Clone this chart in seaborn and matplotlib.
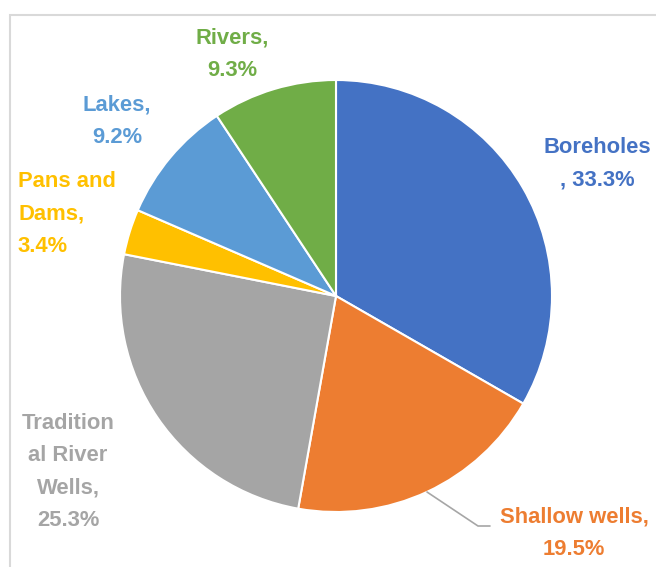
import matplotlib
matplotlib.use("Agg")
import matplotlib.pyplot as plt
import seaborn as sns
from matplotlib.lines import Line2D
from matplotlib.patches import Rectangle

categories = ["Boreholes", "Shallow wells", "Traditional River Wells", "Pans and Dams", "Lakes", "Rivers"]
values = [33.3, 19.5, 25.3, 3.4, 9.2, 9.3]
label_texts = ["Boreholes\n, 33.3%", "Shallow wells,\n19.5%", "Tradition\nal River\nWells,\n25.3%",
               "Pans and\nDams,\n3.4%", "Lakes,\n9.2%", "Rivers,\n9.3%"]
colors = ["#4472C4", "#ED7D31", "#A5A5A5", "#FFC000", "#5B9BD5", "#70AD47"]

sns.set_theme(style="white")
plt.rcParams['font.family'] = ['Liberation Sans', 'DejaVu Sans']

W, H = 656, 567
fig = plt.figure(figsize=(W / 100, H / 100), dpi=100)
fig.patch.set_facecolor("white")

cx, cy, r = 336, 296, 216
ax = fig.add_axes([(cx - r) / W, (H - cy - r) / H, 2 * r / W, 2 * r / H])
palette = sns.color_palette(colors)
ax.pie(values, colors=palette, startangle=90, counterclock=False, radius=1,
       wedgeprops=dict(edgecolor="white", linewidth=1.5))
ax.set_xlim(-1, 1)
ax.set_ylim(-1, 1)
ax.set_aspect("equal")
ax.axis("off")

# frame (chart area border)
fig.add_artist(Rectangle((10 / W, -0.05), 1.2, (H - 15) / H + 0.05, transform=fig.transFigure,
                         fill=False, edgecolor="#D9D9D9", linewidth=1.5))

def px(x, y):
    return x / W, 1 - y / H

# label positions (pixel centres) and alignment
positions = [
    (597, 164, "center"),
    (574, 533, "center"),
    (68, 472, "center"),
    (18, 214, "left"),
    (117, 121, "center"),
    (232, 54, "center"),
]
for txt, (x, y, ha), col in zip(label_texts, positions, colors):
    fx, fy = px(x, y)
    fig.text(fx, fy, txt, ha=ha, va="center", multialignment=ha, color=col,
             fontsize=15.8, fontweight="bold", linespacing=1.72)

# leader line for Shallow wells
xs = [427, 478, 490]
ys = [492, 526, 526]
fig.add_artist(Line2D([x / W for x in xs], [1 - y / H for y in ys], transform=fig.transFigure,
                      color="#A6A6A6", linewidth=1.2))

fig.savefig("out.png", dpi=100)
